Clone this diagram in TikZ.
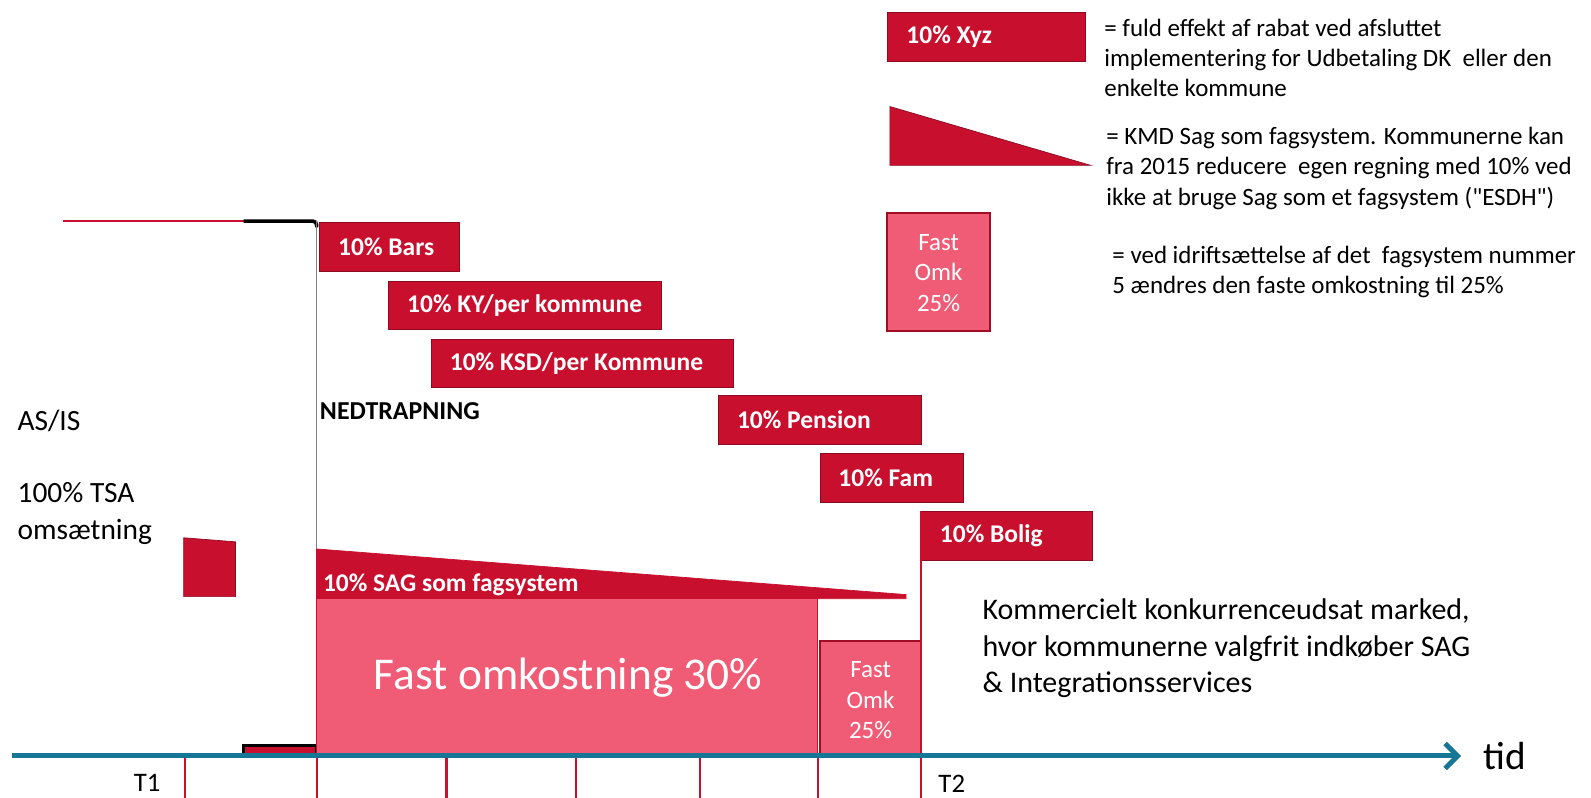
\documentclass[tikz,border=0pt]{standalone}
\usepackage{fontspec}
\setmainfont{Carlito}
\usetikzlibrary{arrows.meta}

\begin{document}
\begin{tikzpicture}[x=0.02cm, y=-0.02cm,
    bar/.style={fill=bar_red, draw=bar_red!70!black, thin},
    fastbox/.style={fill=fast_pink, draw=bar_red!80!black, line width=1.2pt},
    barlabel/.style={anchor=west, inner sep=0pt, text=white, font=\fontsize{14.3}{17}\selectfont\bfseries},
    fasttext/.style={text=white, align=center, font=\fontsize{14}{17}\selectfont},
    legendtext/.style={anchor=west, inner sep=0pt, align=left, font=\fontsize{14}{17}\selectfont},
    tick/.style={bar_red, line width=1.2pt}]
        \definecolor{bar_red}{RGB}{200,16,46}
        \definecolor{fast_pink}{RGB}{240,92,117}
        \definecolor{axis_blue}{RGB}{22,118,150}
        \useasboundingbox (0,0) rectangle (1568,786);
        % as/is level
        \draw[bar_red, line width=1.2pt] (62,218) -- (240,218);
        \draw[black, line width=2pt, rounded corners=2pt] (240,218) -- (312,218) -- (312,224);
        \draw[black!50, thin] (312,218) -- (312,745);
        \filldraw[fill=bar_red, draw=black, line width=1.5pt] (240,735) rectangle (312,745);
        \filldraw[fill=bar_red, draw=bar_red!70!black] (181,530) -- (232,534) -- (232,588) -- (181,588) -- cycle;
        \node[anchor=west, inner sep=0pt, font=\fontsize{16.5}{20.5}\selectfont] (asis) at (17,415) {AS/IS};
        \node[anchor=west, inner sep=0pt, align=left, font=\fontsize{16.5}{20.5}\selectfont] (tsa) at (17,506) {100\% TSA\\oms\ae tning};
        \node[anchor=west, inner sep=0pt, font=\fontsize{14.5}{17}\selectfont\bfseries] (ned) at (315,405) {NEDTRAPNING};
        % discount bars
        \foreach \xa/\ya/\xb/\txt [count=\i] in {315/219/453/Bars, 383/277/652/{KY/per kommune},
                425/334/723/{KSD/per Kommune}, 708/390/908/Pension, 808/447/949/Fam, 908/504/1077/Bolig} {
            \filldraw[bar] (\xa,\ya) rectangle (\xb,\ya+48);
            \node[barlabel] (bar\i) at (\xa+18,\ya+24) {10\% \txt};
        }
        % sag wedge and fixed cost
        \filldraw[bar_red] (312,541) -- (893,586) -- (893,590) -- (312,590) -- cycle;
        \node[barlabel] (sag) at (318,576) {10\% SAG som fagsystem};
        \filldraw[fill=fast_pink, draw=bar_red] (312,590) rectangle (806,745);
        \node[text=white, font=\fontsize{25.5}{30}\selectfont] (fast30) at (560,668) {Fast omkostning 30\%};
        \filldraw[fastbox] (808,632) rectangle (908,745);
        \node[fasttext] (fast25) at (858,690) {Fast\\Omk\\25\%};
        \draw[tick] (908,504) -- (908,786);
        \node[anchor=west, inner sep=0pt, align=left, font=\fontsize{16.8}{20.5}\selectfont] (market) at (968,639)
            {Kommercielt konkurrenceudsat marked,\\hvor kommunerne valgfrit indk\o ber SAG\\\& Integrationsservices};
        % time axis
        \coordinate (origin) at (12,745);
        \coordinate (tidend) at (1440,745);
        \foreach \x in {182,312,440,568,690,806}
            \draw[tick] (\x,745) -- (\x,786);
        \draw[axis_blue, line width=2.8pt, -{Straight Barb[length=7pt,width=14pt]}] (origin) -- (tidend);
        \node[anchor=west, inner sep=0pt, font=\fontsize{22}{26}\selectfont] (tid) at (1462,745) {tid};
        \node[font=\fontsize{15}{18}\selectfont] (t1) at (145,772) {T1};
        \node[font=\fontsize{15}{18}\selectfont] (t2) at (938,772) {T2};
        % legend
        \filldraw[bar] (875,12) rectangle (1070,60);
        \node[barlabel] (xyz) at (893,36) {10\% Xyz};
        \node[legendtext] (leg1) at (1088,57) {= fuld effekt af rabat ved afsluttet\\implementering for Udbetaling DK\ \ eller den\\enkelte kommune};
        \filldraw[fill=bar_red, draw=bar_red!70!black] (877,105) -- (1075,163) -- (877,163) -- cycle;
        \node[legendtext] (leg2) at (1090,166) {= KMD Sag som fagsystem. Kommunerne kan\\fra 2015 reducere\ \ egen regning med 10\% ved\\ikke at bruge Sag som et fagsystem (\textquotedbl ESDH\textquotedbl)};
        \filldraw[fastbox] (874,210) rectangle (976,326);
        \node[fasttext] (legfast) at (925,269) {Fast\\Omk\\25\%};
        \node[legendtext] (leg3) at (1096,268) {= ved idrifts\ae ttelse af det\ \ fagsystem nummer\\5 \ae ndres den faste omkostning til 25\%};
    \end{tikzpicture}
\end{document}
